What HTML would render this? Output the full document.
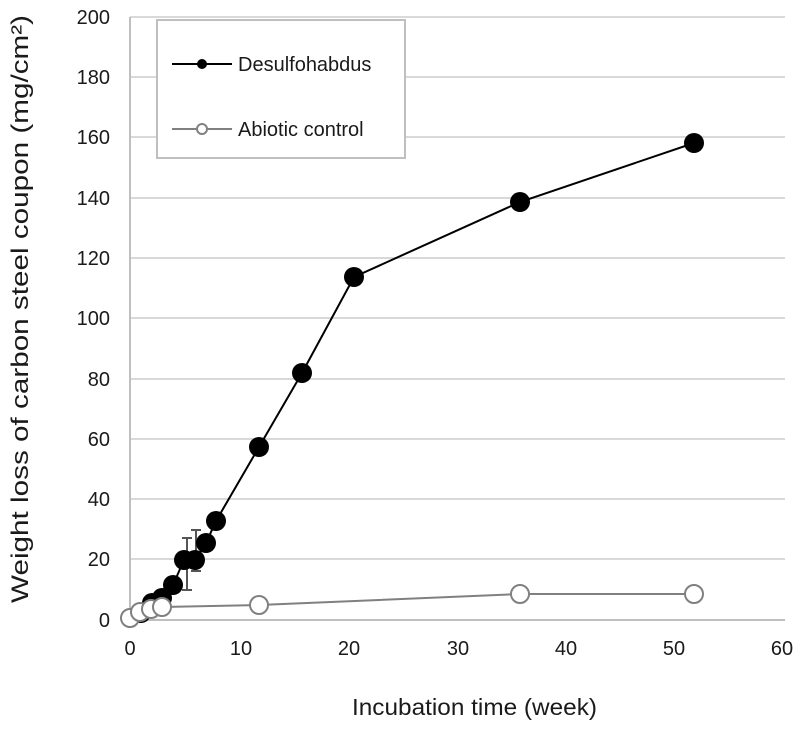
<!DOCTYPE html><html><head><style>body{margin:0;background:#fff}text{font-family:"Liberation Sans",sans-serif;fill:#1a1a1a}</style></head><body>
<svg width="800" height="727" xmlns="http://www.w3.org/2000/svg">
<g stroke="#d9d9d9" stroke-width="2">
<line x1="130" x2="785" y1="17" y2="17"/><line x1="130" x2="785" y1="77" y2="77"/><line x1="130" x2="785" y1="137" y2="137"/><line x1="130" x2="785" y1="198" y2="198"/><line x1="130" x2="785" y1="258" y2="258"/><line x1="130" x2="785" y1="318" y2="318"/><line x1="130" x2="785" y1="379" y2="379"/><line x1="130" x2="785" y1="439" y2="439"/><line x1="130" x2="785" y1="499" y2="499"/><line x1="130" x2="785" y1="559" y2="559"/>
</g>
<g stroke="#bfbfbf" stroke-width="2"><line x1="130" x2="785" y1="620" y2="620"/><line x1="130" x2="130" y1="17" y2="620"/></g>
<g font-size="20" text-anchor="end">
<text x="110" y="627">0</text><text x="110" y="566">20</text><text x="110" y="506">40</text><text x="110" y="446">60</text><text x="110" y="386">80</text><text x="110" y="325">100</text><text x="110" y="265">120</text><text x="110" y="205">140</text><text x="110" y="144">160</text><text x="110" y="84">180</text><text x="110" y="24">200</text></g>
<g font-size="20" text-anchor="middle">
<text x="130" y="655">0</text><text x="241" y="655">10</text><text x="349" y="655">20</text><text x="458" y="655">30</text><text x="566" y="655">40</text><text x="674" y="655">50</text><text x="782" y="655">60</text></g>
<text x="352" y="715" font-size="23" textLength="245" lengthAdjust="spacingAndGlyphs">Incubation time (week)</text>
<text transform="translate(28,603) rotate(-90)" font-size="24" textLength="588" lengthAdjust="spacingAndGlyphs">Weight loss of carbon steel coupon (mg/cm²)</text>
<g stroke="#555" stroke-width="2" fill="none">
<path d="M187 538V590M182 538H192M182 590H192M196 530V571M191 530H201M191 571H201"/></g>
<polyline fill="none" stroke="#808080" stroke-width="2" points="130,618 140,612 151,609 162,607 259,605 520,594 694,594"/>
<polyline fill="none" stroke="#000" stroke-width="2" points="130,620 141,613 152,603 162,598 173,585 184,560 195,560 206,543 216,521 259,447 302,373 354,277 520,202 694,143"/>
<g fill="#000">
<circle cx="141" cy="613" r="10"/><circle cx="152" cy="603" r="10"/><circle cx="162" cy="598" r="10"/><circle cx="173" cy="585" r="10"/><circle cx="184" cy="560" r="10"/><circle cx="195" cy="560" r="10"/><circle cx="206" cy="543" r="10"/><circle cx="216" cy="521" r="10"/><circle cx="259" cy="447" r="10"/><circle cx="302" cy="373" r="10"/><circle cx="354" cy="277" r="10"/><circle cx="520" cy="202" r="10"/><circle cx="694" cy="143" r="10"/></g>
<g fill="#fff" stroke="#808080" stroke-width="2">
<circle cx="130" cy="618" r="9"/><circle cx="140" cy="612" r="9"/><circle cx="151" cy="609" r="9"/><circle cx="162" cy="607" r="9"/><circle cx="259" cy="605" r="9"/><circle cx="520" cy="594" r="9"/><circle cx="694" cy="594" r="9"/></g>
<rect x="157" y="20" width="248" height="138" fill="#fff" stroke="#bfbfbf" stroke-width="2"/>
<line x1="172" x2="232" y1="64" y2="64" stroke="#000" stroke-width="2"/><circle cx="202" cy="64" r="5"/>
<text x="238" y="71" font-size="20">Desulfohabdus</text>
<line x1="172" x2="232" y1="129" y2="129" stroke="#808080" stroke-width="2"/><circle cx="202" cy="129" r="5" fill="#fff" stroke="#808080" stroke-width="2"/>
<text x="238" y="136" font-size="20">Abiotic control</text>
</svg></body></html>
